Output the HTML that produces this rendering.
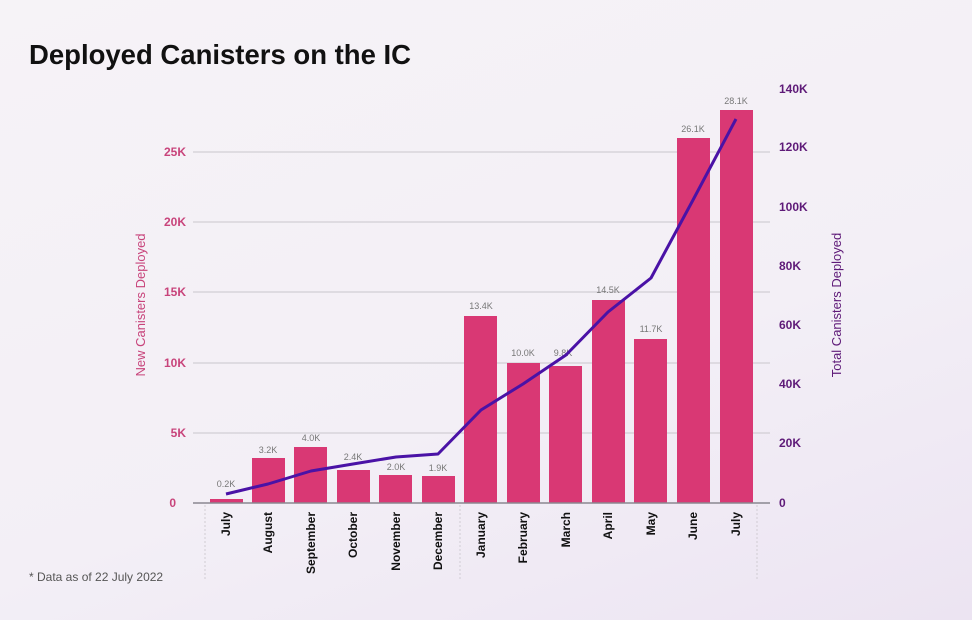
<!DOCTYPE html>
<html><head><meta charset="utf-8"><style>
html,body{margin:0;padding:0}
body{width:972px;height:620px;overflow:hidden;background:linear-gradient(160deg,#f6f3f7 0%,#f3eff6 60%,#ece4f2 100%);font-family:"Liberation Sans",sans-serif}
</style></head><body>
<svg width="972" height="620" xmlns="http://www.w3.org/2000/svg" style="position:absolute;left:0;top:0">
<text x="29" y="64" font-size="27.5" font-weight="bold" fill="#111">Deployed Canisters on the IC</text>
<g stroke="#c9c6cc" stroke-width="1">
<line x1="193" y1="152" x2="770" y2="152"/><line x1="193" y1="222" x2="770" y2="222"/>
<line x1="193" y1="292" x2="770" y2="292"/><line x1="193" y1="363" x2="770" y2="363"/>
<line x1="193" y1="433" x2="770" y2="433"/>
</g>
<g stroke="#d0ccd3" stroke-dasharray="2,2"><line x1="205" y1="505" x2="205" y2="580"/><line x1="460" y1="505" x2="460" y2="580"/><line x1="757" y1="505" x2="757" y2="580"/></g>
<g font-size="12" font-weight="bold" fill="#c8447b" text-anchor="end">
<text x="186" y="156">25K</text><text x="186" y="226">20K</text><text x="186" y="296">15K</text><text x="186" y="367">10K</text><text x="186" y="437">5K</text><text x="176" y="507">0</text>
</g>
<text transform="translate(145,305) rotate(-90)" font-size="13" fill="#c8447b" text-anchor="middle">New Canisters Deployed</text>
<g font-size="12" font-weight="bold" fill="#5e1a78">
<text x="779" y="93">140K</text><text x="779" y="151">120K</text><text x="779" y="211">100K</text><text x="779" y="270">80K</text><text x="779" y="329">60K</text><text x="779" y="388">40K</text><text x="779" y="447">20K</text><text x="779" y="507">0</text>
</g>
<text transform="translate(841,305) rotate(-90)" font-size="13" fill="#5e1a78" text-anchor="middle">Total Canisters Deployed</text>
<g fill="#d93874">
<rect x="210" y="499" width="33" height="4"/>
<rect x="252" y="458" width="33" height="45"/>
<rect x="294" y="447" width="33" height="56"/>
<rect x="337" y="470" width="33" height="33"/>
<rect x="379" y="475" width="33" height="28"/>
<rect x="422" y="476" width="33" height="27"/>
<rect x="464" y="316" width="33" height="187"/>
<rect x="507" y="363" width="33" height="140"/>
<rect x="549" y="366" width="33" height="137"/>
<rect x="592" y="300" width="33" height="203"/>
<rect x="634" y="339" width="33" height="164"/>
<rect x="677" y="138" width="33" height="365"/>
<rect x="720" y="110" width="33" height="393"/>
</g>
<line x1="193" y1="503" x2="770" y2="503" stroke="#8a8790" stroke-width="1.5"/>
<g font-size="9" fill="#777" text-anchor="middle">
<text x="226" y="487">0.2K</text><text x="268" y="453">3.2K</text><text x="311" y="441">4.0K</text><text x="353" y="460">2.4K</text><text x="396" y="470">2.0K</text><text x="438" y="471">1.9K</text><text x="481" y="309">13.4K</text><text x="523" y="356">10.0K</text><text x="563" y="356">9.8K</text><text x="608" y="293">14.5K</text><text x="651" y="332">11.7K</text><text x="693" y="132">26.1K</text><text x="736" y="104">28.1K</text>
</g>
<polyline fill="none" stroke="#4a12a6" stroke-width="3" stroke-linejoin="round" points="226,494 268,484 311,471 353,464 396,457 438,454 481,410 523,384 566,355 608,312 651,278 693,200 736,119"/>
<g font-size="12" font-weight="bold" fill="#111" text-anchor="end">
<text transform="translate(230,512) rotate(-90)">July</text>
<text transform="translate(272,512) rotate(-90)">August</text>
<text transform="translate(315,512) rotate(-90)">September</text>
<text transform="translate(357,512) rotate(-90)">October</text>
<text transform="translate(400,512) rotate(-90)">November</text>
<text transform="translate(442,512) rotate(-90)">December</text>
<text transform="translate(485,512) rotate(-90)">January</text>
<text transform="translate(527,512) rotate(-90)">February</text>
<text transform="translate(570,512) rotate(-90)">March</text>
<text transform="translate(612,512) rotate(-90)">April</text>
<text transform="translate(655,512) rotate(-90)">May</text>
<text transform="translate(697,512) rotate(-90)">June</text>
<text transform="translate(740,512) rotate(-90)">July</text>
</g>
<text x="29" y="581" font-size="12" fill="#555">* Data as of 22 July 2022</text>
</svg>
</body></html>
